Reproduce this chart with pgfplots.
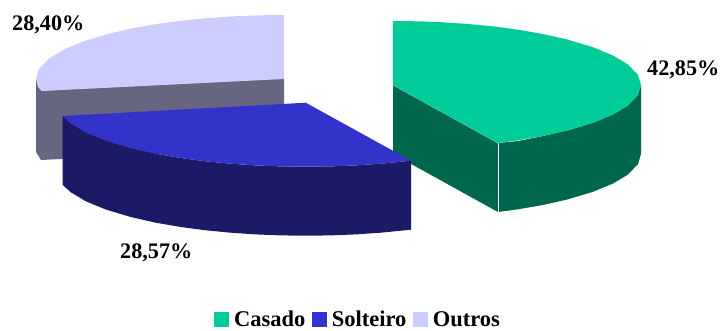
\documentclass[border=0pt]{standalone}
\usepackage{pgfplots}
\pgfplotsset{compat=1.18}
\usepackage{fontspec}
\setmainfont{Liberation Serif}
\definecolor{casado}{HTML}{00CC99}
\definecolor{casadoside}{HTML}{00664D}
\definecolor{solteiro}{HTML}{3333CC}
\definecolor{solteiroside}{HTML}{1A1A66}
\definecolor{outros}{HTML}{CCCCFF}
\definecolor{outrosside}{HTML}{666680}
\newcommand{\chartfont}{\fontsize{22.2}{24}\selectfont\bfseries}
\begin{document}
\begin{tikzpicture}
\useasboundingbox (0,0) rectangle (722pt,330pt);
\begin{axis}[
  at={(0,0)}, anchor=south west,
  scale only axis, width=722pt, height=330pt,
  xmin=0, xmax=722, ymin=0, ymax=330, y dir=reverse,
  hide axis, clip=false,
  legend columns=3,
  legend style={
    at={(0.2964,0.0065)}, anchor=south west, draw=none, fill=none,
    inner sep=0pt, outer sep=0pt,
    font=\fontsize{22.5}{24}\selectfont\bfseries,
    /tikz/every even column/.append style={column sep=6.5pt},
    /tikz/every odd column/.append style={column sep=5pt},
    nodes={inner sep=0pt, outer sep=0pt}
  },
  legend image code/.code={
    \fill[#1] (0pt,-7.5pt) rectangle (15pt,7.5pt);
  },
]
% Outros: wall of the slice
\addplot[forget plot, draw=none, fill=outrosside] coordinates {
  (36,79) (36,152) (41,160) (284,148) (284,79)
} -- cycle;

% Casado: walls, then top face
\addplot[forget plot, draw=none, fill=casadoside] coordinates {
  (393,85) (393,154) (498,212) (498,143)
} -- cycle;
\addplot[forget plot, draw=none, fill=casadoside] coordinates {
  (498,143) (518,141) (543,136) (568,130.3) (593,122.8) (613,114.5) (628,105.5) (638,95) (641,85)
  (641,154) (638,164) (628,174.5) (613,183.5) (593,191.8) (568,199.3) (543,205) (518,209.3) (498,212)
} -- cycle;
\addplot[forget plot, draw=white!70!casadoside, line width=0.6pt] coordinates {(393,21) (393,85) (498,143)};
\addplot[forget plot, draw=white, line width=0.8pt] coordinates {(498,143) (498,212)};
\addplot[draw=none, fill=casado] coordinates {
  (393,21) (418,21.3) (443,22.3) (468,24) (493,26.4) (518,29.7) (543,34) (568,39.7) (593,47.2)
  (613,55.5) (628,64.5) (638,75) (641,85)
  (638,95) (628,105.5) (613,114.5) (593,122.8) (568,130.3) (543,136) (518,140.3) (498,143)
  (393,85)
} -- cycle;
\addlegendentry{Casado}

% Solteiro: outer wall, then top face
\addplot[forget plot, draw=none, fill=solteiroside] coordinates {
  (62.7,116) (70.7,123.2) (85.7,132.2) (105.7,140.5) (130.7,148) (155.7,153.7) (180.7,158)
  (205.7,161.3) (230.7,163.7) (255.7,165.4) (280.7,166.4) (305.7,166.7) (330.7,166.4)
  (355.7,165.4) (380.7,163.7) (411,160.7)
  (411,229.7) (380.7,232.7) (355.7,234.4) (330.7,235.4) (305.7,235.7) (280.7,235.4)
  (255.7,234.4) (230.7,232.7) (205.7,230.3) (180.7,227) (155.7,222.7) (130.7,217)
  (105.7,209.5) (85.7,201.2) (70.7,192.2) (62.7,185)
} -- cycle;
\addplot[draw=none, fill=solteiro] coordinates {
  (305.7,102.7) (62.7,116) (70.7,123.2) (85.7,132.2) (105.7,140.5) (130.7,148) (155.7,153.7)
  (180.7,158) (205.7,161.3) (230.7,163.7) (255.7,165.4) (280.7,166.4) (305.7,166.7)
  (330.7,166.4) (355.7,165.4) (380.7,163.7) (411,160.7)
} -- cycle;
\addlegendentry{Solteiro}

% Outros: top face
\addplot[draw=none, fill=outros] coordinates {
  (284,15) (259,15.3) (234,16.3) (209,18) (184,20.4) (159,23.7) (134,28) (109,33.7) (84,41.2)
  (64,49.5) (49,58.5) (39,69) (36,79) (38,87) (42,91) (284,79)
} -- cycle;
\addlegendentry{Outros}

% Percentage of each slice
\node[anchor=base west, inner sep=0pt, font=\chartfont] at (axis cs:12,30) {28,40\%};
\node[anchor=base west, inner sep=0pt, font=\chartfont] at (axis cs:120,258.5) {28,57\%};
\node[anchor=base west, inner sep=0pt, font=\chartfont] at (axis cs:647,75) {42,85\%};
\end{axis}
\end{tikzpicture}
\end{document}
